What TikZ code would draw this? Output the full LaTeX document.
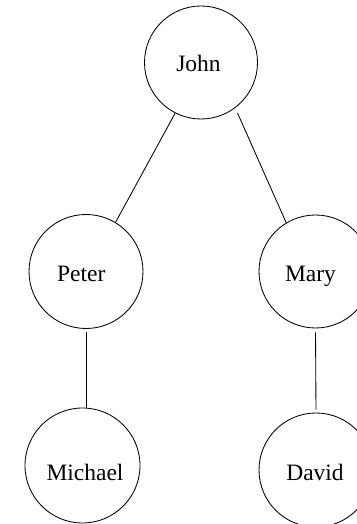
\documentclass[tikz,border=0pt]{standalone}
\usepackage{fontspec}
\setmainfont{Liberation Serif}
\begin{document}
\begin{tikzpicture}[x=1pt,y=1pt,
  person/.style={draw, circle, inner sep=0pt, line width=0.85pt},
  persontext/.style={anchor=base, inner sep=0pt, font=\fontsize{23.5}{28}\selectfont},
  link/.style={line width=0.85pt}]
\useasboundingbox (0,0) rectangle (356,524);
\node[person, minimum size=113pt] (john) at (201,461.5) {};
\node[person, minimum size=114pt] (peter) at (86,252.5) {};
\node[person, minimum size=113pt] (mary) at (315.5,252.5) {};
\node[person, minimum size=115pt] (michael) at (82.5,58.5) {};
\node[person, minimum size=114pt] (david) at (316,54) {};
\node[persontext] (johnt) at (198.5,452) {John};
\node[persontext] (petert) at (81.3,242.3) {Peter};
\node[persontext] (maryt) at (310.5,242) {Mary};
\node[persontext] (michaelt) at (85,43.3) {Michael};
\node[persontext] (davidt) at (315,43.3) {David};
\draw[link] (john.-117) -- (peter.59);
\draw[link, shorten <=5.5pt] (john.-53.4) -- (mary.121.6);
\draw[link, shorten <=3.5pt] (peter.south) -- (peter.south |- michael.north);
\draw[link, shorten <=4pt, shorten >=3pt] (mary.south) -- (david.north);
\end{tikzpicture}
\end{document}
